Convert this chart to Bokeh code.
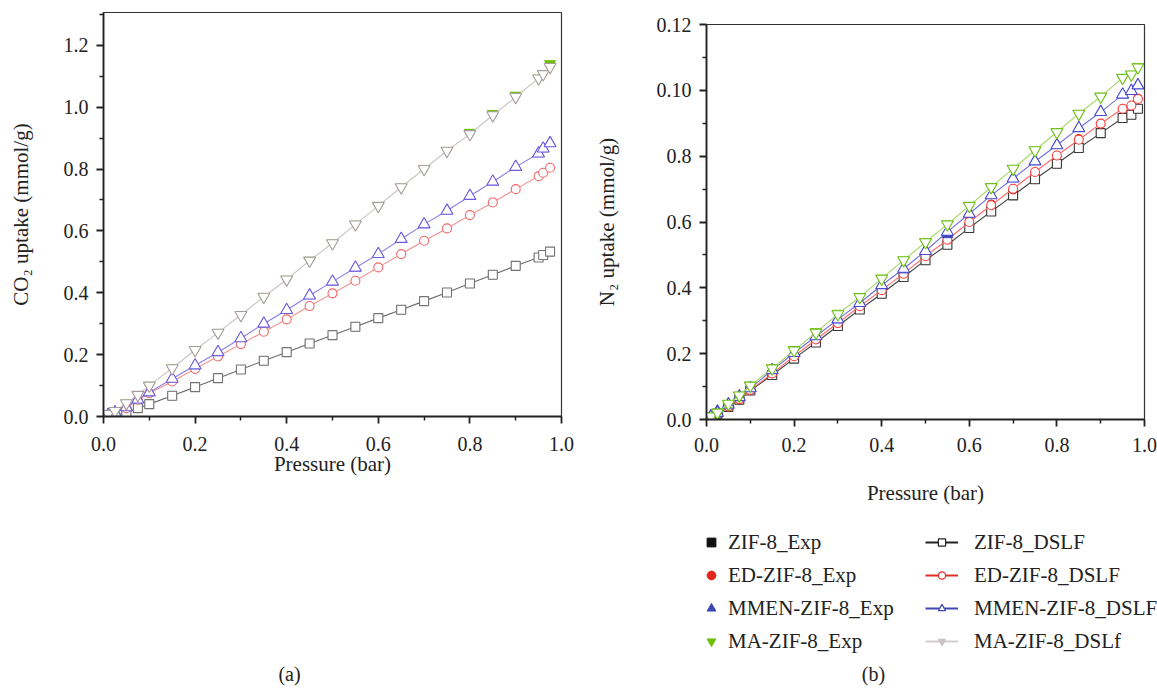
from bokeh.plotting import figure
from bokeh.layouts import row, column
from bokeh.models import Range1d, FixedTicker, Legend, LegendItem, Label
from bokeh.embed import file_html
from bokeh.resources import INLINE

FONT = "Liberation Serif"

# ---------------- data ----------------
pressure_co2 = [0.01, 0.025, 0.05, 0.075, 0.1, 0.15, 0.2, 0.25, 0.3, 0.35, 0.4, 0.45,
                0.5, 0.55, 0.6, 0.65, 0.7, 0.75, 0.8, 0.85, 0.9, 0.95, 0.96, 0.975]
co2_zif8_dslf = [0.002, 0.005, 0.011, 0.027, 0.040, 0.067, 0.095, 0.124, 0.152, 0.180, 0.208, 0.236,
                 0.263, 0.290, 0.318, 0.345, 0.373, 0.401, 0.430, 0.458, 0.487, 0.514, 0.522, 0.533]
co2_ed_dslf = [0.004, 0.012, 0.027, 0.054, 0.075, 0.113, 0.154, 0.194, 0.234, 0.274, 0.314, 0.357,
               0.398, 0.439, 0.482, 0.525, 0.568, 0.608, 0.651, 0.692, 0.735, 0.777, 0.788, 0.804]
co2_mmen_dslf = [0.005, 0.013, 0.030, 0.055, 0.078, 0.122, 0.165, 0.208, 0.253, 0.300, 0.344, 0.391,
                 0.436, 0.481, 0.525, 0.574, 0.621, 0.665, 0.713, 0.759, 0.807, 0.850, 0.866, 0.883]
co2_ma_dslf = [0.008, 0.018, 0.043, 0.070, 0.100, 0.156, 0.215, 0.271, 0.328, 0.387, 0.443, 0.504,
               0.560, 0.621, 0.681, 0.741, 0.800, 0.859, 0.913, 0.974, 1.033, 1.093, 1.107, 1.130]
co2_zif8_exp = [0.002, 0.005, 0.011, 0.027, 0.040, 0.067, 0.095, 0.124, 0.152, 0.180, 0.208, 0.236,
                0.263, 0.290, 0.318, 0.345, 0.373, 0.401, 0.430, 0.458, 0.487, 0.514, 0.522, 0.533]
co2_ed_exp = [0.005, 0.013, 0.028, 0.055, 0.075, 0.113, 0.154, 0.194, 0.234, 0.274, 0.314, 0.357,
              0.398, 0.439, 0.482, 0.525, 0.568, 0.608, 0.651, 0.692, 0.735, 0.777, 0.788, 0.804]
co2_mmen_exp = [0.006, 0.014, 0.031, 0.056, 0.078, 0.122, 0.165, 0.208, 0.253, 0.300, 0.344, 0.391,
                0.436, 0.481, 0.525, 0.574, 0.621, 0.665, 0.713, 0.759, 0.807, 0.850, 0.866, 0.885]
co2_ma_exp = [0.008, 0.018, 0.043, 0.070, 0.100, 0.156, 0.215, 0.271, 0.328, 0.387, 0.443, 0.504,
              0.560, 0.621, 0.681, 0.741, 0.800, 0.859, 0.918, 0.979, 1.038, 1.093, 1.107, 1.140]

pressure_n2 = [0.01, 0.025, 0.05, 0.075, 0.1, 0.15, 0.2, 0.25, 0.3, 0.35, 0.4, 0.45,
               0.5, 0.55, 0.6, 0.65, 0.7, 0.75, 0.8, 0.85, 0.9, 0.95, 0.97, 0.985]
n2_zif8_dslf = [0.0006, 0.0018, 0.0038, 0.0060, 0.0088, 0.0135, 0.0185, 0.0234, 0.0284, 0.0334, 0.0382, 0.0433,
                0.0484, 0.0531, 0.0582, 0.0632, 0.0681, 0.0730, 0.0777, 0.0825, 0.0870, 0.0916, 0.0926, 0.0944]
n2_ed_dslf = [0.0007, 0.0019, 0.0040, 0.0062, 0.0090, 0.0140, 0.0192, 0.0243, 0.0293, 0.0344, 0.0393, 0.0443,
              0.0496, 0.0546, 0.0600, 0.0651, 0.0701, 0.0752, 0.0802, 0.0850, 0.0899, 0.0944, 0.0954, 0.0974]
n2_mmen_dslf = [0.0008, 0.0020, 0.0045, 0.0068, 0.0095, 0.0150, 0.0202, 0.0253, 0.0304, 0.0354, 0.0408, 0.0458,
                0.0512, 0.0570, 0.0625, 0.0681, 0.0732, 0.0784, 0.0833, 0.0885, 0.0934, 0.0987, 0.0998, 0.1015]
n2_ma_dslf = [0.0009, 0.0021, 0.0048, 0.0073, 0.0103, 0.0155, 0.0210, 0.0264, 0.0320, 0.0372, 0.0428, 0.0484,
              0.0539, 0.0593, 0.0649, 0.0706, 0.0762, 0.0818, 0.0873, 0.0929, 0.0981, 0.1038, 0.1048, 0.1070]
n2_zif8_exp = [0.0006, 0.0018, 0.0038, 0.0060, 0.0088, 0.0135, 0.0185, 0.0234, 0.0284, 0.0334, 0.0382, 0.0433,
               0.0484, 0.0531, 0.0582, 0.0632, 0.0681, 0.0730, 0.0777, 0.0825, 0.0870, 0.0916, 0.0926, 0.0944]
n2_ed_exp = [0.0006, 0.0017, 0.0038, 0.0060, 0.0088, 0.0140, 0.0192, 0.0243, 0.0293, 0.0344, 0.0393, 0.0443,
             0.0496, 0.0546, 0.0604, 0.0655, 0.0697, 0.0752, 0.0802, 0.0854, 0.0899, 0.0944, 0.0954, 0.0976]
n2_mmen_exp = [0.0012, 0.0026, 0.0048, 0.0072, 0.0095, 0.0150, 0.0202, 0.0253, 0.0304, 0.0354, 0.0408, 0.0455,
               0.0512, 0.0562, 0.0625, 0.0681, 0.0732, 0.0784, 0.0833, 0.0885, 0.0934, 0.0987, 0.0998, 0.1017]
n2_ma_exp = [0.0009, 0.0021, 0.0048, 0.0073, 0.0103, 0.0157, 0.0212, 0.0266, 0.0322, 0.0372, 0.0428, 0.0484,
             0.0539, 0.0593, 0.0649, 0.0706, 0.0762, 0.0818, 0.0873, 0.0929, 0.0981, 0.1038, 0.1048, 0.1072]

x_ticks = [0.0, 0.2, 0.4, 0.6, 0.8, 1.0]
x_minor = [0.1, 0.3, 0.5, 0.7, 0.9]
x_tick_labels = ["0.0", "0.2", "0.4", "0.6", "0.8", "1.0"]
co2_ticks = [0.0, 0.2, 0.4, 0.6, 0.8, 1.0, 1.2]
co2_minor = [0.1, 0.3, 0.5, 0.7, 0.9, 1.1, 1.3]
co2_tick_labels = ["0.0", "0.2", "0.4", "0.6", "0.8", "1.0", "1.2"]
n2_ticks = [0.0, 0.02, 0.04, 0.06, 0.08, 0.10, 0.12]
n2_minor = [0.01, 0.03, 0.05, 0.07, 0.09, 0.11]
n2_tick_labels = ["0.0", "0.2", "0.4", "0.6", "0.8", "0.10", "0.12"]

exp_names = ["ZIF-8_Exp", "ED-ZIF-8_Exp", "MMEN-ZIF-8_Exp", "MA-ZIF-8_Exp"]
dslf_names = ["ZIF-8_DSLF", "ED-ZIF-8_DSLF", "MMEN-ZIF-8_DSLF", "MA-ZIF-8_DSLf"]
panel_tags = ["(a)", "(b)"]
markers = ["square", "circle", "triangle", "inverted_triangle"]
marker_sizes = [9, 9, 12, 12]
exp_colors = ["#111111", "#e3261c", "#3c46b4", "#6cc000"]


def make_fig(width, height, bl, br, bt, bb, yend):
    p = figure(width=width, height=height, output_backend="svg", toolbar_location=None,
               x_range=Range1d(0, 1.0), y_range=Range1d(0, yend),
               min_border_left=bl, min_border_right=br, min_border_top=bt, min_border_bottom=bb)
    p.xgrid.visible = False
    p.ygrid.visible = False
    p.outline_line_color = "#333333"
    p.outline_line_width = 1.2
    p.background_fill_color = "white"
    p.border_fill_color = "white"
    for ax in (p.xaxis[0], p.yaxis[0]):
        ax.axis_line_color = "#222222"
        ax.axis_line_width = 1.8
        ax.major_tick_line_color = "#222222"
        ax.major_tick_line_width = 1.8
        ax.minor_tick_line_color = "#222222"
        ax.minor_tick_line_width = 1.5
        ax.major_tick_in = 0
        ax.major_tick_out = 7
        ax.minor_tick_in = 0
        ax.minor_tick_out = 4
        ax.major_label_text_font = FONT
        ax.major_label_text_font_size = "20px"
        ax.major_label_text_color = "#222222"
        ax.axis_label_text_font = FONT
        ax.axis_label_text_font_size = "21px"
        ax.axis_label_text_font_style = "normal"
        ax.axis_label_text_color = "#222222"
    p.xaxis.ticker = FixedTicker(ticks=x_ticks, minor_ticks=x_minor)
    p.xaxis.major_label_overrides = dict(zip(x_ticks, x_tick_labels))
    p.xaxis.axis_label = "Pressure (bar)"
    p.yaxis.major_label_standoff = 8
    return p


def draw_series(p, x, exp_sets, dslf_sets, line_cols, mark_cols):
    for i in range(4):
        p.scatter(x, exp_sets[i], marker=markers[i], size=marker_sizes[i] - 1,
                  fill_color=exp_colors[i], line_color=exp_colors[i], line_width=1)
        p.line(x, dslf_sets[i], line_color=line_cols[i], line_width=1.1)
        p.scatter(x, dslf_sets[i], marker=markers[i], size=marker_sizes[i],
                  fill_color="white", line_color=mark_cols[i], line_width=1.1)


# ---------------- left: CO2 ----------------
p1 = make_fig(580, 510, 103, 19, 12, 94, 1.306)
p1.yaxis.ticker = FixedTicker(ticks=co2_ticks, minor_ticks=co2_minor)
p1.yaxis.major_label_overrides = dict(zip(co2_ticks, co2_tick_labels))
p1.yaxis.axis_label = "CO\u2082 uptake (mmol/g)"
p1.yaxis.axis_label_standoff = 28
p1.xaxis.major_label_standoff = 13
p1.xaxis.axis_label_standoff = -2
draw_series(p1, pressure_co2,
            [co2_zif8_exp, co2_ed_exp, co2_mmen_exp, co2_ma_exp],
            [co2_zif8_dslf, co2_ed_dslf, co2_mmen_dslf, co2_ma_dslf],
            ["#6b6b6b", "#f28b8b", "#8a7fe8", "#cbc3c3"],
            ["#747474", "#f06a6a", "#6c5ce0", "#a89c9c"])

# ---------------- right: N2 ----------------
p2 = make_fig(577, 510, 126, 13, 24, 91, 0.12)
p2.yaxis.ticker = FixedTicker(ticks=n2_ticks, minor_ticks=n2_minor)
p2.yaxis.major_label_overrides = dict(zip(n2_ticks, n2_tick_labels))
p2.yaxis.axis_label = "N\u2082 uptake (mmol/g)"
p2.yaxis.axis_label_standoff = 35
p2.xaxis.major_label_standoff = 11
p2.xaxis.axis_label_standoff = 26
draw_series(p2, pressure_n2,
            [n2_zif8_exp, n2_ed_exp, n2_mmen_exp, n2_ma_exp],
            [n2_zif8_dslf, n2_ed_dslf, n2_mmen_dslf, n2_ma_dslf],
            ["#444444", "#ff6a6a", "#7070d8", "#a2d560"],
            ["#3a3a3a", "#ff3b3b", "#4a4ad0", "#6fc01a"])

# ---------------- bottom strip: panel tags + legend ----------------
# pixel-unit ranges; the y range lies below every data value, so the
# legend swatch renderers (fed with the real series) stay out of view
p3 = figure(width=1157, height=176, output_backend="svg", toolbar_location=None,
            x_range=Range1d(0, 1157), y_range=Range1d(-206, -30),
            min_border_left=0, min_border_right=0, min_border_top=0, min_border_bottom=0)
p3.axis.visible = False
p3.xgrid.visible = False
p3.ygrid.visible = False
p3.outline_line_color = None
p3.background_fill_color = "white"
p3.border_fill_color = "white"
for tag, xpos in zip(panel_tags, [289, 873]):
    p3.add_layout(Label(x=xpos, y=-193, text=tag, text_font=FONT, text_font_size="20px",
                        text_align="center", text_baseline="middle", text_color="#222222"))

leg_line_cols = ["#222222", "#e0302a", "#4048b0", "#d2cece"]
leg_mark_fill = ["white", "white", "white", "#c8c4c4"]
leg_mark_line = ["#222222", "#e0302a", "#4048b0", "#c8c4c4"]
co2_exp_sets = [co2_zif8_exp, co2_ed_exp, co2_mmen_exp, co2_ma_exp]
co2_dslf_sets = [co2_zif8_dslf, co2_ed_dslf, co2_mmen_dslf, co2_ma_dslf]
exp_items = []
dslf_items = []
for i in range(4):
    r_e = p3.scatter(pressure_co2, co2_exp_sets[i], marker=markers[i], size=9,
                     fill_color=exp_colors[i], line_color=exp_colors[i])
    exp_items.append(LegendItem(label=exp_names[i], renderers=[r_e]))
    r_l = p3.line(pressure_co2, co2_dslf_sets[i], line_color=leg_line_cols[i], line_width=2)
    r_m = p3.scatter(pressure_co2, co2_dslf_sets[i], marker=markers[i], size=8,
                     fill_color=leg_mark_fill[i], line_color=leg_mark_line[i], line_width=1.2)
    dslf_items.append(LegendItem(label=dslf_names[i], renderers=[r_l, r_m]))


def make_legend(items, loc, gw, gh, standoff):
    return Legend(items=items, location=loc, glyph_width=gw, glyph_height=gh,
                  label_height=30, spacing=3, padding=0, margin=0, label_standoff=standoff,
                  border_line_color=None, background_fill_alpha=0,
                  label_text_font=FONT, label_text_font_size="21px", label_text_color="#222222")


p3.add_layout(make_legend(exp_items, (700, 30), 22, 22, 6))
p3.add_layout(make_legend(dslf_items, (925, 30), 33, 18, 16))

layout = column(row(column(p1), column(p2)), column(p3))
open("out.html", "w").write(file_html(layout, INLINE))
